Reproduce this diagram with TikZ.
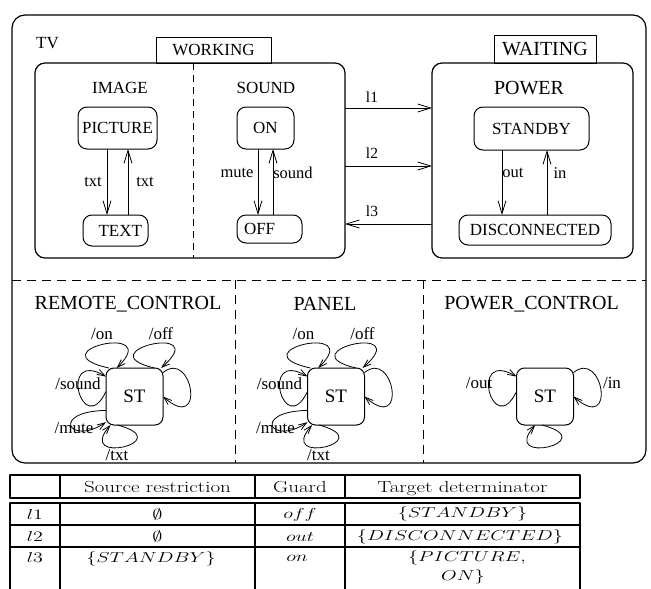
\documentclass[tikz,border=0pt]{standalone}
\usepackage{fontspec}
\usepackage{graphicx}
\usetikzlibrary{arrows.meta}
\newfontfamily\tms{Liberation Serif}
\newcommand\fsz[1]{\fontsize{#1}{#1}\selectfont}
\newcommand\hx[1]{\scalebox{1.31}[1]{#1}}
\newcommand\hm[1]{\scalebox{1.4}[1]{#1}}
\tikzset{
  box/.style={draw, line width=1.2pt, rounded corners=10pt, inner sep=0pt, outer sep=0pt},
  stt/.style={draw, line width=1pt, rounded corners=9pt, font=\tms\fsz{17}, inner sep=0pt, outer sep=0pt, align=center},
  tabbox/.style={draw, line width=1pt, inner sep=0pt, outer sep=0pt},
  ttl/.style={font=\tms\fsz{17}, inner sep=0pt},
  big/.style={font=\tms\fsz{20}, inner sep=0pt},
  lbl/.style={font=\tms\fsz{16.5}, inner sep=0pt},
  lpl/.style={font=\tms\fsz{17}, inner sep=0pt},
  arr/.style={line width=0.8pt, -{Straight Barb[length=13pt,width=8pt]}},
  larr/.style={line width=0.8pt, -{Straight Barb[length=8pt,width=5.5pt]}},
  dsh/.style={line width=1pt, dash pattern=on 9pt off 6pt},
  tb/.style={font=\fsz{16}, inner sep=0pt, anchor=base},
  tbm/.style={font=\fsz{15}, inner sep=0pt, anchor=base},
}
\newcommand\sixloops[1]{%
  \begin{scope}[shift={(#1)}]
    \draw[larr] (#1.132) .. controls (-100,-45) and (30,-75) .. (#1.122);
    \draw[larr] (#1.55) .. controls (-50,-45) and (80,-75) .. (#1.47);
    \draw[larr] (#1.40) .. controls (58,-48) and (72,38) .. (#1.0);
    \draw[larr] (#1.170) .. controls (-52,44) and (-77,-48) .. (#1.145);
    \draw[larr] (#1.206) .. controls (-85,15) and (-65,50) .. (#1.222);
    \draw[larr] (#1.239) .. controls (45,45) and (-60,70) .. (#1.230);
    \node[lpl] (#1-on) at (-32.5,-62.5) {/on};
    \node[lpl] (#1-off) at (26.5,-62.5) {/off};
    \node[lpl] (#1-sound) at (-56.5,-12.5) {/sound};
    \node[lpl] (#1-mute) at (-60.5,31.5) {/mute};
    \node[lpl] (#1-txt) at (-17.5,58.5) {/txt};
  \end{scope}}
\begin{document}
\begin{tikzpicture}[x=1pt,y=-1pt,line join=round]
\fill[white] (0,0) rectangle (651,589);
\useasboundingbox (0,0) rectangle (651,589);

% TV container
\node[box, rounded corners=13pt, minimum width=634pt, minimum height=448pt] (tv) at (329,239) {};
\node[ttl, anchor=west] (tvl) at (36,43) {TV};

% WORKING
\node[box, minimum width=310pt, minimum height=195pt] (working) at (190,160.5) {};
\node[tabbox, minimum width=115pt, minimum height=26pt, font=\tms\fsz{17}] (wtab) at (213.5,50) {WORKING};
\draw[line width=1pt, dash pattern=on 7pt off 5pt] ([xshift=3pt]working.north) -- ([xshift=3pt]working.south);
\node[ttl] (image) at (120,88) {IMAGE};
\node[ttl] (sound) at (266,88) {SOUND};

\node[stt, minimum width=79pt, minimum height=42pt] (picture) at (117.5,128) {PICTURE};
\node[stt, minimum width=65pt, minimum height=31pt, text width=53pt, inner xsep=6pt, align=right] (txtst) at (115.5,230.5) {TEXT};
\node[stt, minimum width=57pt, minimum height=42pt] (on) at (265.5,128) {ON};
\node[stt, minimum width=65pt, minimum height=28pt, text width=51pt, inner xsep=7pt, align=left] (off) at (269.5,229) {OFF};

\draw[arr] ([xshift=-10.5pt]picture.south) -- ([xshift=-10.5pt]picture.south |- txtst.north);
\draw[arr] ([xshift=10.5pt]picture.south |- txtst.north) -- ([xshift=10.5pt]picture.south);
\node[lbl] (t1) at (93,182) {txt};
\node[lbl] (t2) at (145,182) {txt};
\draw[arr] ([xshift=-7.5pt]on.south) -- ([xshift=-7.5pt]on.south |- off.north);
\draw[arr] ([xshift=7.5pt]on.south |- off.north) -- ([xshift=7.5pt]on.south);
\node[lbl] (mute) at (237,173) {mute};
\node[lbl] (snd) at (293,173) {sound};

% WAITING
\node[box, minimum width=201pt, minimum height=195pt] (power) at (532.5,160.5) {};
\node[tabbox, minimum width=102pt, minimum height=28pt, font=\tms\fsz{20}] (wtab2) at (545,49) {WAITING};
\node[big] (powerl) at (529,88) {POWER};
\node[stt, minimum width=115pt, minimum height=43pt] (standby) at (531.5,128.5) {STANDBY};
\node[stt, minimum width=152pt, minimum height=30pt] (disc) at (535,230) {DISCONNECTED};
\draw[arr] ([xshift=-29.5pt]standby.south) -- ([xshift=-29.5pt]standby.south |- disc.north);
\draw[arr] ([xshift=15.5pt]standby.south |- disc.north) -- ([xshift=15.5pt]standby.south);
\node[lbl] (outl) at (513,173) {out};
\node[lbl] (inl) at (560,173) {in};

% links
\draw[arr] ([yshift=52.5pt]working.east) -- ([yshift=52.5pt]working.east -| power.west);
\draw[arr] ([yshift=-5.5pt]working.east) -- ([yshift=-5.5pt]working.east -| power.west);
\draw[arr] ([yshift=-63.5pt]working.east -| power.west) -- ([yshift=-63.5pt]working.east);
\node[lbl, font=\tms\fsz{15.5}] (l1) at (372,97) {l1};
\node[lbl, font=\tms\fsz{15.5}] (l2) at (372,153) {l2};
\node[lbl, font=\tms\fsz{15.5}] (l3) at (372,211) {l3};

% lower regions
\coordinate (hl) at (12,280);
\coordinate (hr) at (646,280);
\coordinate (v1t) at (235,280);
\coordinate (v1b) at (235,463);
\coordinate (v2t) at (423,280);
\coordinate (v2b) at (423,463);
\draw[dsh] (hl) -- (hr);
\draw[dsh] (v1t) -- (v1b);
\draw[dsh] (v2t) -- (v2b);

\node[big] (rcl) at (128,304) {REMOTE\_CONTROL};
\node[big] (pnl) at (325,304) {PANEL};
\node[big] (pcl) at (531.5,304) {POWER\_CONTROL};

\node[stt, rounded corners=8pt, minimum width=57pt, minimum height=57pt, font=\tms\fsz{19}] (rc) at (134.5,396.5) {ST};
\node[stt, rounded corners=8pt, minimum width=57pt, minimum height=57pt, font=\tms\fsz{19}] (pn) at (336,396.5) {ST};
\node[stt, rounded corners=8pt, minimum width=57pt, minimum height=57pt, font=\tms\fsz{19}] (pc) at (545,396.5) {ST};

\sixloops{rc}
\sixloops{pn}

\begin{scope}[shift={(pc)}]
  \draw[larr] (pc.170) .. controls (-52,44) and (-77,-48) .. (pc.145);
  \draw[larr] (pc.40) .. controls (58,-48) and (72,38) .. (pc.0);
  \draw[larr] (pc.264) .. controls (59,45) and (-46,70) .. (pc.251);
  \node[lpl] (pc-out) at (-66,-13.5) {/out};
  \node[lpl] (pc-in) at (67,-13.5) {/in};
\end{scope}

% table
\begin{scope}[line width=2pt]
  \draw (10,475) rectangle (580,498);
  \draw (60,475) -- (60,498);
  \draw (255,475) -- (255,498);
  \draw (345,475) -- (345,498);
  \draw (10,589) -- (10,503) -- (580,503) -- (580,589);
  \draw (10,525) -- (580,525);
  \draw (10,547) -- (580,547);
  \draw (60,503) -- (60,589);
  \draw (255,503) -- (255,589);
  \draw (345,503) -- (345,589);
\end{scope}
\node[tb] (h2) at (157.5,492) {\hx{Source restriction}};
\node[tb] (h3) at (300,492) {\hx{Guard}};
\node[tb] (h4) at (462.5,492) {\hx{Target determinator}};

\node[tbm] (r1a) at (35,519) {\hm{$l1$}};
\node[tbm] (r1b) at (157.5,519) {\hm{$\emptyset$}};
\node[tbm] (r1c) at (300,518) {\hm{$off$}};
\node[tbm] (r1d) at (462.5,517) {\hm{$\{STANDBY\}$}};

\node[tbm] (r2a) at (35,541) {\hm{$l2$}};
\node[tbm] (r2b) at (157.5,541) {\hm{$\emptyset$}};
\node[tbm] (r2c) at (300,541) {\hm{$out$}};
\node[tbm] (r2d) at (460,540) {\hm{$\{DISCONNECTED\}$}};

\node[tbm] (r3a) at (35,562) {\hm{$l3$}};
\node[tbm] (r3b) at (151,562) {\hm{$\{STANDBY\}$}};
\node[tbm] (r3c) at (297,561) {\hm{$on$}};
\node[tbm] (r3d) at (467,561) {\hm{$\{PICTURE,$}};
\node[tbm] (r3e) at (463,580) {\hm{$ON\}$}};
\end{tikzpicture}
\end{document}
